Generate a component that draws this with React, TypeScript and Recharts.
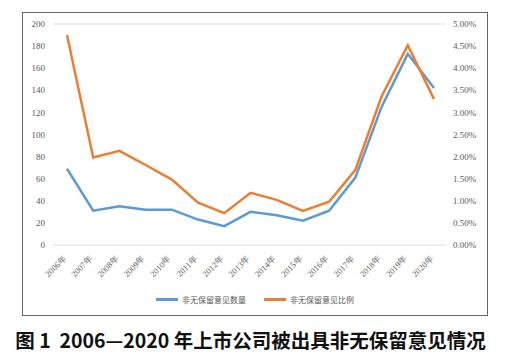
import React from 'react';
import { LineChart, Line, XAxis, YAxis, CartesianGrid, Legend } from 'recharts';

const years = ['2006年', '2007年', '2008年', '2009年', '2010年', '2011年', '2012年', '2013年', '2014年', '2015年', '2016年', '2017年', '2018年', '2019年', '2020年'];
const counts = [69, 31, 35, 32, 32, 23, 17, 30, 27, 22, 31, 61, 125, 173, 142];
const ratios = [4.75, 1.98, 2.13, 1.81, 1.48, 0.96, 0.72, 1.18, 1.02, 0.77, 0.98, 1.7, 3.36, 4.52, 3.3];
const leftTicks = [0, 20, 40, 60, 80, 100, 120, 140, 160, 180, 200];
const rightTicks = [0, 0.5, 1, 1.5, 2, 2.5, 3, 3.5, 4, 4.5, 5];

const data = years.map((year, i) => ({ year, count: counts[i], ratio: ratios[i] }));

const BLUE = '#5B9BD5';
const ORANGE = '#ED7D31';
const tickFont = { fill: '#595959', fontSize: 9, fontFamily: '"Liberation Serif", serif' };

const XTick = (props: any) => {
  const { x, y, payload } = props;
  return (
    <text
      x={x}
      y={y}
      dy={6}
      textAnchor="end"
      transform={`rotate(-45 ${x} ${y + 6})`}
      fill="#595959"
      fontSize={8.5}
      fontFamily='"Liberation Serif", serif'
    >
      {payload.value}
    </text>
  );
};

const LegendBox = () => (
  <div style={{ display: 'flex', justifyContent: 'center', gap: 18, fontSize: 8, color: '#595959', fontFamily: '"Noto Sans CJK SC", sans-serif' }}>
    {[
      { c: BLUE, t: '非无保留意见数量' },
      { c: ORANGE, t: '非无保留意见比例' },
    ].map((it) => (
      <div key={it.t} style={{ display: 'flex', alignItems: 'center', gap: 4 }}>
        <span style={{ display: 'inline-block', width: 22, height: 3, background: it.c }} />
        <span>{it.t}</span>
      </div>
    ))}
  </div>
);

export default function App() {
  return (
    <div style={{ position: 'absolute', left: 0, top: 0, width: 513, height: 360, background: '#fff' }}>
      <div style={{ position: 'absolute', left: 22, top: 12 }}>
        <LineChart width={466} height={304} data={data} margin={{ top: 12, right: 0, bottom: 0, left: 0 }}>
          <CartesianGrid vertical={false} stroke="#d9d9d9" />
          <XAxis dataKey="year" axisLine={false} tickLine={false} interval={0} height={49} padding={{ left: 14, right: 11 }} tick={<XTick />} />
          <YAxis yAxisId="left" width={31} domain={[0, 200]} ticks={leftTicks} axisLine={false} tickLine={false} tick={tickFont} />
          <YAxis
            yAxisId="right"
            orientation="right"
            width={43}
            domain={[0, 5]}
            ticks={rightTicks}
            axisLine={false}
            tickLine={false}
            tick={{ ...tickFont, textAnchor: 'start' }}
            tickFormatter={(v: number) => v.toFixed(2) + '%'}
          />
          <Legend verticalAlign="bottom" height={22} content={() => <LegendBox />} />
          <Line yAxisId="left" dataKey="count" stroke={BLUE} strokeWidth={2.5} dot={false} isAnimationActive={false} />
          <Line yAxisId="right" dataKey="ratio" stroke={ORANGE} strokeWidth={2.5} dot={false} isAnimationActive={false} />
        </LineChart>
      </div>
      <div style={{ position: 'absolute', left: 22, top: 12, width: 466, height: 304, border: '1.5px solid #666', boxSizing: 'border-box', pointerEvents: 'none' }} />
      <div style={{ position: 'absolute', left: -6, top: 325, width: 513, textAlign: 'center', fontSize: 19.5, fontWeight: 'bold', color: '#111', fontFamily: '"Noto Sans CJK SC", sans-serif', whiteSpace: 'nowrap' }}>
        图 1&nbsp;&nbsp;2006—2020 年上市公司被出具非无保留意见情况
      </div>
    </div>
  );
}
